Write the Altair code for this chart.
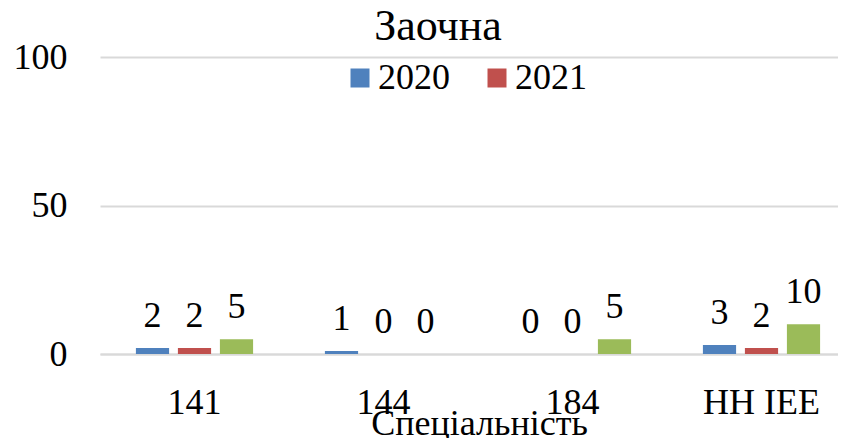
import altair as alt
import pandas as pd

categories = ["141", "144", "184", "НН ІЕЕ"]
series = ["2020", "2021", "Ряд 3"]
values_2020 = [2, 1, 0, 3]
values_2021 = [2, 0, 0, 2]
values_3 = [5, 0, 5, 10]
colors = ["#4F81BD", "#C0504D", "#9BBB59"]
legend_items = ["2020", "2021"]

rows = []
for s, vals in zip(series, [values_2020, values_2021, values_3]):
    for c, v in zip(categories, vals):
        rows.append({"cat": c, "series": s, "value": v})
df = pd.DataFrame(rows)

FONT = "Liberation Serif"

x = alt.X(
    "cat:N",
    sort=categories,
    scale=alt.Scale(range=[0, 756], paddingInner=0.38, paddingOuter=0.19),
    axis=alt.Axis(
        title="Спеціальність",
        labelAngle=0,
        labelFontSize=36,
        labelFont=FONT,
        labelColor="black",
        labelPadding=31,
        ticks=False,
        domainColor="#D9D9D9",
        domainWidth=2,
        titleFont=FONT,
        titleFontSize=36,
        titleFontWeight="normal",
        titleColor="black",
        titleX=379,
        titleY=80,
        titleAlign="center",
        titleBaseline="alphabetic",
    ),
)
xo = alt.XOffset("series:N", sort=series, scale=alt.Scale(paddingInner=0.21, paddingOuter=0))
y = alt.Y(
    "value:Q",
    scale=alt.Scale(domain=[0, 100]),
    axis=alt.Axis(
        values=[0, 50, 100],
        title=None,
        domain=False,
        ticks=False,
        gridColor="#D9D9D9",
        gridWidth=2,
        labelFontSize=36,
        labelFont=FONT,
        labelColor="black",
        labelPadding=33,
    ),
)

bars = alt.Chart(df).mark_bar().encode(
    x=x,
    xOffset=xo,
    y=y,
    color=alt.Color(
        "series:N",
        sort=series,
        scale=alt.Scale(domain=series, range=colors),
        legend=alt.Legend(
            values=legend_items,
            orient="none",
            legendX=242,
            legendY=3,
            direction="horizontal",
            title=None,
            symbolType="square",
            symbolSize=361,
            symbolStrokeWidth=0,
            symbolOpacity=1,
            labelFontSize=36,
            labelFont=FONT,
            labelColor="black",
            labelOffset=0,
            columnPadding=29,
        ),
    ),
)

labels = alt.Chart(df).mark_text(
    baseline="bottom", dy=-13, fontSize=36, font=FONT, color="black"
).encode(x=x, xOffset=xo, y=y, text="value:Q")

chart = (
    alt.layer(bars, labels)
    .properties(
        width=738,
        height=297,
        autosize=alt.AutoSizeParams(type="none"),
        padding={"left": 92, "top": 49, "right": 0, "bottom": 84},
        title=alt.TitleParams(
            "Заочна",
            font=FONT,
            fontSize=44,
            fontWeight="normal",
            color="black",
            anchor="middle",
            dx=-31,
            dy=22,
            offset=12,
        ),
    )
    .configure(font=FONT)
    .configure_view(stroke=None)
)

chart.save("out.html", embed_options={"renderer": "svg", "actions": False})
